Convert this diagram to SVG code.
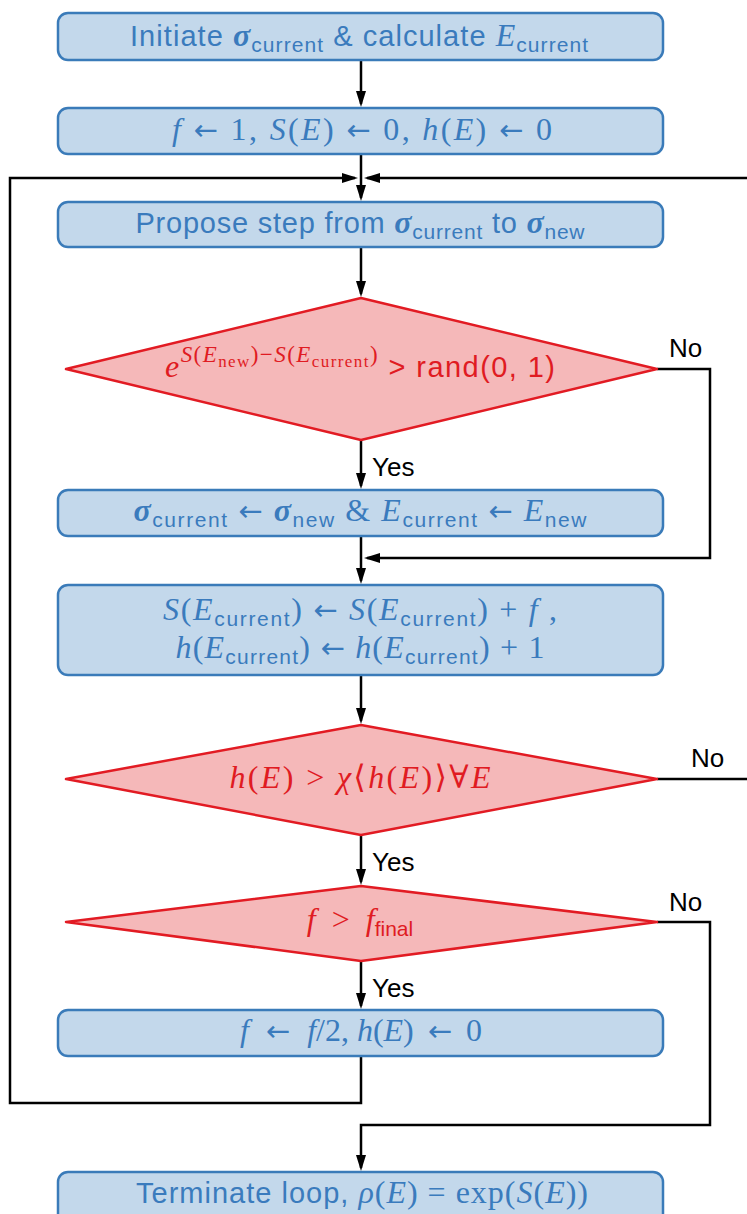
<svg xmlns="http://www.w3.org/2000/svg" width="747" height="1214" viewBox="0 0 747 1214">
  <style>
    .box { fill: #c3d8eb; stroke: #3a7bb9; stroke-width: 2.5; }
    .dia { fill: #f5b8b9; stroke: #e21b23; stroke-width: 2.5; stroke-linejoin: round; }
    .t { font-family: "Liberation Sans", "DejaVu Sans", sans-serif; font-size: 29px; text-anchor: middle; }
    .blue { fill: #3a7bbd; }
    .red { fill: #e01b22; }
    .m { font-family: "Liberation Serif", "DejaVu Serif", serif; font-size: 32px; }
    .i { font-family: "Liberation Serif", "DejaVu Serif", serif; font-style: italic; font-size: 32px; }
    .sg { font-family: "Liberation Serif", "DejaVu Serif", serif; font-style: italic; font-weight: bold; font-size: 32px; }
    .s { font-family: "Liberation Sans", "DejaVu Sans", sans-serif; font-style: normal; font-weight: normal; font-size: 21px; }
    .ar { font-family: "DejaVu Sans", sans-serif; font-style: normal; font-size: 29px; }
    .sup { font-family: "Liberation Serif", "DejaVu Serif", serif; font-size: 23px; }
    .supsub { font-family: "Liberation Serif", "DejaVu Serif", serif; font-style: normal; font-size: 17px; }
    .lbl { font-family: "Liberation Sans", "DejaVu Sans", sans-serif; font-size: 26px; fill: #000; }
    .wire { fill: none; stroke: #000; stroke-width: 2.5; }
  </style>
  <defs>
    <marker id="ah" viewBox="0 0 16 10" refX="13" refY="5" markerWidth="16" markerHeight="10" markerUnits="userSpaceOnUse" orient="auto">
      <path d="M0,0 L16,5 L0,10 z" fill="#000"/>
    </marker>
  </defs>

  <!-- connectors -->
  <g id="connectors">
    <line class="wire" x1="361" y1="60" x2="361" y2="104" marker-end="url(#ah)"/>
    <line class="wire" x1="361" y1="154" x2="361" y2="198" marker-end="url(#ah)"/>
    <path class="wire" d="M361,1056 V1103 H10 V178 H355" marker-end="url(#ah)"/>
    <path class="wire" d="M657,779 H749"/>
    <path class="wire" d="M749,178 H367" marker-end="url(#ah)"/>
    <line class="wire" x1="361" y1="247" x2="361" y2="294" marker-end="url(#ah)"/>
    <line class="wire" x1="361" y1="440" x2="361" y2="486" marker-end="url(#ah)"/>
    <line class="wire" x1="361" y1="536" x2="361" y2="581" marker-end="url(#ah)"/>
    <path class="wire" d="M657,369 H710 V558 H367" marker-end="url(#ah)"/>
    <line class="wire" x1="361" y1="675" x2="361" y2="721" marker-end="url(#ah)"/>
    <line class="wire" x1="361" y1="835" x2="361" y2="882" marker-end="url(#ah)"/>
    <line class="wire" x1="361" y1="961" x2="361" y2="1006" marker-end="url(#ah)"/>
    <path class="wire" d="M657,922 H710 V1125 H361 V1168" marker-end="url(#ah)"/>
    <text class="lbl" x="669" y="357">No</text>
    <text class="lbl" x="372" y="476">Yes</text>
    <text class="lbl" x="691" y="767">No</text>
    <text class="lbl" x="372" y="871">Yes</text>
    <text class="lbl" x="669" y="911">No</text>
    <text class="lbl" x="372" y="997">Yes</text>
  </g>

  <!-- initialisation -->
  <g id="init">
    <rect class="box" x="58" y="13" width="605" height="47" rx="10"/>
    <text class="t blue" x="359" y="46" textLength="458" lengthAdjust="spacing">Initiate <tspan class="sg">σ</tspan><tspan class="s" dy="6">current</tspan><tspan dy="-6"> &amp; calculate </tspan><tspan class="i">E</tspan><tspan class="s" dy="6">current</tspan></text>
  </g>

  <g id="reset">
    <rect class="box" x="58" y="108" width="605" height="46" rx="10"/>
    <text class="t blue m" x="362" y="140" textLength="380" lengthAdjust="spacing"><tspan class="i">f</tspan> <tspan class="ar">←</tspan> 1, <tspan class="i">S</tspan>(<tspan class="i">E</tspan>) <tspan class="ar">←</tspan> 0, <tspan class="i">h</tspan>(<tspan class="i">E</tspan>) <tspan class="ar">←</tspan> 0</text>
  </g>

  <g id="propose">
    <rect class="box" x="58" y="202" width="605" height="45" rx="10"/>
    <text class="t blue" x="360" y="233" textLength="449" lengthAdjust="spacing">Propose step from <tspan class="sg">σ</tspan><tspan class="s" dy="6">current</tspan><tspan dy="-6"> to </tspan><tspan class="sg">σ</tspan><tspan class="s" dy="6">new</tspan></text>
  </g>

  <g id="accept-test">
    <polygon class="dia" points="361,298 657,369 361,440 66,369"/>
    <text class="t red" x="360" y="377" textLength="390" lengthAdjust="spacing"><tspan class="i">e</tspan><tspan class="sup" dy="-15"><tspan font-style="italic">S</tspan>(<tspan font-style="italic">E</tspan></tspan><tspan class="supsub" dy="5">new</tspan><tspan class="sup" dy="-5">)−<tspan font-style="italic">S</tspan>(<tspan font-style="italic">E</tspan></tspan><tspan class="supsub" dy="5">current</tspan><tspan class="sup" dy="-5">)</tspan><tspan dy="15"> &gt; rand(0, 1)</tspan></text>
  </g>

  <g id="accept">
    <rect class="box" x="58" y="490" width="605" height="46" rx="10"/>
    <text class="t blue m" x="360" y="521" textLength="453" lengthAdjust="spacing"><tspan class="sg">σ</tspan><tspan class="s" dy="6">current</tspan><tspan dy="-6"> </tspan><tspan class="ar">←</tspan> <tspan class="sg">σ</tspan><tspan class="s" dy="6">new</tspan><tspan dy="-6"> &amp; </tspan><tspan class="i">E</tspan><tspan class="s" dy="6">current</tspan><tspan dy="-6"> </tspan><tspan class="ar">←</tspan> <tspan class="i">E</tspan><tspan class="s" dy="6">new</tspan></text>
  </g>

  <g id="update">
    <rect class="box" x="58" y="585" width="605" height="90" rx="10"/>
    <text class="t blue m" x="360" y="620" textLength="394" lengthAdjust="spacing"><tspan class="i">S</tspan>(<tspan class="i">E</tspan><tspan class="s" dy="6">current</tspan><tspan dy="-6">) </tspan><tspan class="ar">←</tspan> <tspan class="i">S</tspan>(<tspan class="i">E</tspan><tspan class="s" dy="6">current</tspan><tspan dy="-6">) + </tspan><tspan class="i">f</tspan> ,</text>
    <text class="t blue m" x="360" y="658" textLength="369" lengthAdjust="spacing"><tspan class="i">h</tspan>(<tspan class="i">E</tspan><tspan class="s" dy="6">current</tspan><tspan dy="-6">) </tspan><tspan class="ar">←</tspan> <tspan class="i">h</tspan>(<tspan class="i">E</tspan><tspan class="s" dy="6">current</tspan><tspan dy="-6">) + 1</tspan></text>
  </g>

  <g id="flat-test">
    <polygon class="dia" points="361,725 657,779 361,835 66,779"/>
    <text class="t red m" x="360" y="788" textLength="261" lengthAdjust="spacing"><tspan class="i">h</tspan>(<tspan class="i">E</tspan>) &gt; <tspan class="i">χ</tspan>⟨<tspan class="i">h</tspan>(<tspan class="i">E</tspan>)⟩∀<tspan class="i">E</tspan></text>
  </g>

  <g id="final-test">
    <polygon class="dia" points="361,886 657,922 361,961 66,922"/>
    <text class="t red m" x="360" y="930"><tspan class="i">f</tspan><tspan dx="16">&gt;</tspan><tspan class="i" dx="16">f</tspan><tspan class="s" dy="6">final</tspan></text>
  </g>

  <g id="halve">
    <rect class="box" x="58" y="1010" width="605" height="46" rx="10"/>
    <text class="t blue m" x="361" y="1041"><tspan class="i">f</tspan><tspan class="ar" dx="17">←</tspan><tspan class="i" dx="17">f</tspan>/2, <tspan class="i">h</tspan>(<tspan class="i">E</tspan>)<tspan class="ar" dx="14">←</tspan><tspan dx="14">0</tspan></text>
  </g>

  <g id="terminate">
    <rect class="box" x="58" y="1172" width="605" height="60" rx="10"/>
    <text class="t blue" x="362" y="1203" textLength="452" lengthAdjust="spacing">Terminate loop, <tspan class="i">ρ</tspan><tspan class="m">(</tspan><tspan class="i">E</tspan><tspan class="m">) = exp(</tspan><tspan class="i">S</tspan><tspan class="m">(</tspan><tspan class="i">E</tspan><tspan class="m">))</tspan></text>
  </g>
</svg>
